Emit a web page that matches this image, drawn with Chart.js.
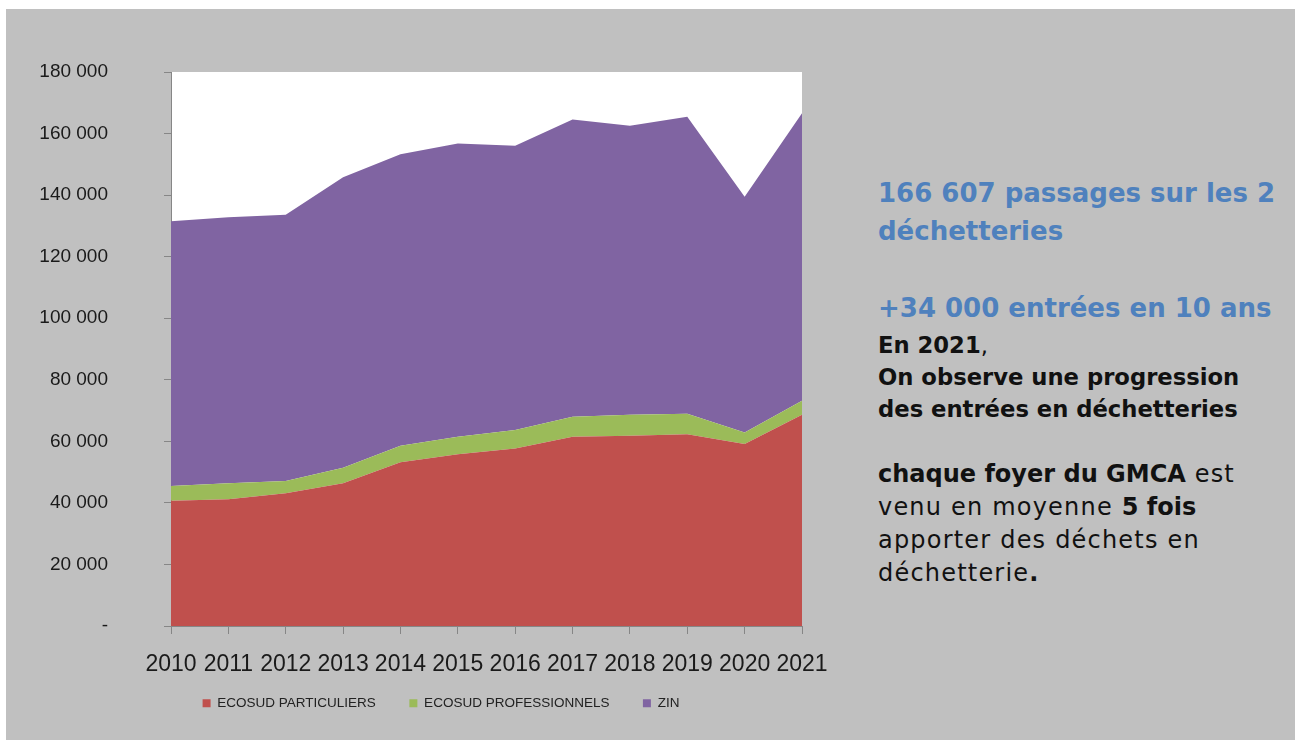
<!DOCTYPE html>
<html lang="fr">
<head>
<meta charset="utf-8">
<script src="https://cdn.jsdelivr.net/npm/chart.js@4/dist/chart.umd.min.js"></script>
<style>
  html, body { margin: 0; padding: 0; background: #ffffff; }
  body { width: 1295px; height: 740px; position: relative; overflow: hidden; }
  .panel { position: absolute; left: 6px; top: 9px; right: 0; bottom: 0; background: #c0c0c0; }
  #chart { position: absolute; left: 0; top: 0; }
  .txt { position: absolute; left: 878px; font-family: "DejaVu Sans", sans-serif; color: #111; white-space: nowrap; }
  .blue { color: #4f81bd; font-weight: bold; font-size: 26px; line-height: 38px; }
  .black { font-size: 22.7px; line-height: 32px; }
  .para { font-size: 24px; line-height: 33px; letter-spacing: 1.2px; }
  .para b { letter-spacing: 0; }
  b { font-weight: bold; }
</style>
</head>
<body>
<div class="panel"></div>
<canvas id="chart" width="860" height="740"></canvas>

<div class="txt blue" style="top:174px">166 607 passages sur les 2<br>déchetteries</div>
<div class="txt blue" style="top:289px">+34 000 entrées en 10 ans</div>
<div class="txt black" style="top:329px"><b>En 2021</b>,<br><b>On observe une progression<br>des entrées en déchetteries</b></div>
<div class="txt para" style="top:458px"><b>chaque foyer du GMCA</b> est<br>venu en moyenne <b>5 fois</b><br>apporter des déchets en<br>déchetterie<b>.</b></div>

<script>
// données
const years = ['2010', '2011', '2012', '2013', '2014', '2015', '2016', '2017', '2018', '2019', '2020', '2021'];
const particuliers = [40700, 41200, 43100, 46400, 53200, 55800, 57700, 61500, 61800, 62300, 59100, 68600];
const professionnels = [4800, 5200, 4000, 5000, 5400, 5700, 6000, 6500, 6800, 6700, 3800, 4600];
const zin = [86000, 86400, 86500, 94400, 94700, 95300, 92300, 96600, 93900, 96500, 76600, 93407];
const yMax = 180000;
const yStep = 20000;

const AXIS_COLOR = '#868686';
const LABEL_COLOR = '#1a1a1a';

// format "180 000", zéro affiché "-"
function formatTick(value) {
  if (value === 0) return '-';
  return String(value).replace(/\B(?=(\d{3})+(?!\d))/g, ' ');
}

// fond blanc de la zone de tracé
const plotBackground = {
  id: 'plotBackground',
  beforeDraw(chart) {
    const { ctx, chartArea } = chart;
    ctx.save();
    ctx.fillStyle = '#ffffff';
    ctx.fillRect(chartArea.left, chartArea.top, chartArea.right - chartArea.left, chartArea.bottom - chartArea.top);
    ctx.restore();
  }
};

// décale la légende pour la centrer sous la zone de tracé
const legendOffset = {
  id: 'legendOffset',
  afterLayout(chart) {
    const lg = chart.legend;
    if (!lg) return;
    lg.left += 40;
    lg.right += 40;
    lg.top -= 13;
    lg.bottom -= 13;
  }
};

function areaDataset(label, data, color, fill) {
  return {
    label: label,
    data: data,
    backgroundColor: color,
    borderColor: color,
    borderWidth: 0,
    pointRadius: 0,
    pointHoverRadius: 0,
    tension: 0,
    fill: fill
  };
}

const ctx = document.getElementById('chart').getContext('2d');
new Chart(ctx, {
  type: 'line',
  data: {
    labels: years,
    datasets: [
      areaDataset('ECOSUD PARTICULIERS', particuliers, '#c0504d', 'origin'),
      areaDataset('ECOSUD PROFESSIONNELS', professionnels, '#9bbb59', '-1'),
      areaDataset('ZIN', zin, '#8064a2', '-1')
    ]
  },
  options: {
    responsive: false,
    animation: false,
    layout: { padding: { top: 72, right: 58, bottom: 7, left: 0 } },
    plugins: {
      tooltip: { enabled: false },
      legend: {
        position: 'bottom',
        labels: {
          color: '#222',
          boxWidth: 8,
          boxHeight: 8,
          padding: 33.5,
          font: { family: '"Liberation Sans", sans-serif', size: 13.5 }
        }
      }
    },
    scales: {
      x: {
        offset: false,
        grid: { drawOnChartArea: false, tickLength: 8, color: AXIS_COLOR, offset: false },
        border: { color: AXIS_COLOR },
        ticks: {
          color: LABEL_COLOR,
          padding: 17,
          maxRotation: 0,
          autoSkip: false,
          font: { family: '"Liberation Sans", sans-serif', size: 23 }
        },
        afterFit: s => { s.height = 50; }
      },
      y: {
        stacked: true,
        min: 0,
        max: yMax,
        grid: { drawOnChartArea: false, tickLength: 7, color: AXIS_COLOR },
        border: { color: AXIS_COLOR },
        ticks: {
          stepSize: yStep,
          padding: 56,
          color: LABEL_COLOR,
          font: { family: '"Liberation Sans", sans-serif', size: 19 },
          callback: formatTick
        },
        afterFit: s => { s.width = 171; }
      }
    }
  },
  plugins: [plotBackground, legendOffset]
});
</script>
</body>
</html>
